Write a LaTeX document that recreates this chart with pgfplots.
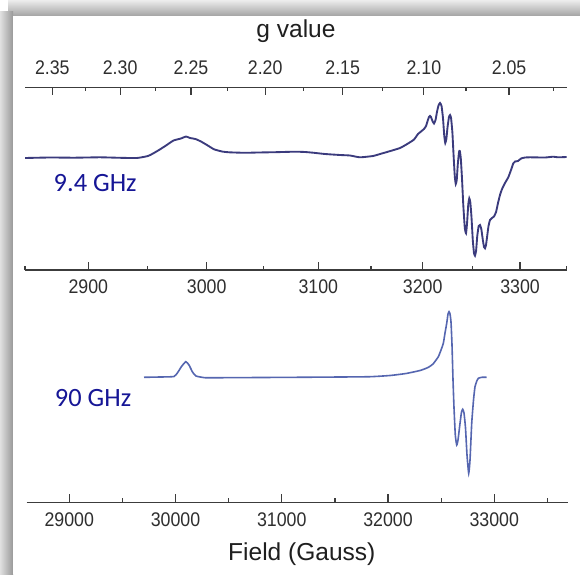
\documentclass[border=0pt]{standalone}
\usepackage{pgfplots}
\pgfplotsset{compat=1.18}
\usepackage{graphicx}
\usepackage{fontspec}
\setmainfont{Liberation Sans}
\newfontfamily\calib{Carlito}
\definecolor{axg}{HTML}{3C3C3C}
\definecolor{lbl}{HTML}{2E2E2E}
\definecolor{topc}{HTML}{3B3B7D}
\definecolor{botc}{HTML}{5566B0}
\definecolor{ghz}{HTML}{161696}
\newcommand\tl[1]{\scalebox{0.9}[1]{#1}}
\pgfplotsset{every axis/.append style={
  scale only axis,
  axis line style={draw=axg, line width=0.9pt, -},
  tick style={draw=axg, line width=0.9pt},
  major tick length=6pt, minor tick length=3pt,
  tick align=inside,
  scaled x ticks=false,
  ticklabel style={font=\fontsize{14.8}{15}\selectfont, text=lbl},
}}
\begin{document}
\begin{tikzpicture}
\useasboundingbox (0,0) rectangle (435pt,-430.5pt);
\fill[white] (0,0) rectangle (435pt,-430.5pt);
\shade[top color=black!7, bottom color=black!36] (6pt,0) rectangle (435pt,-12pt);
\shade[left color=black!12, right color=black!40] (0,-9pt) rectangle (9.75pt,-430.5pt);
\fill[white] (9.75pt,-12pt) rectangle (435pt,-430.5pt);

% top panel: field axis (bottom line)
\begin{axis}[at={(18.75pt,-202.5pt)}, anchor=south west,
  width=406.275pt, height=137.025pt,
  xmin=2832.9, xmax=3328.9, ymin=-112.5, ymax=70.2,
  axis x line*=bottom, axis y line=none,
  xtick={2890.85,2999.27,3101.46,3197.05,3286.15},
  xticklabels={\tl{2900},\tl{3000},\tl{3100},\tl{3200},\tl{3300}},
  minor xtick={2832.9,2945.25,3051.10,3149.71,3242.83,3328.9},
  xticklabel style={anchor=center, yshift=-12.5pt},
]
\addplot[topc, line width=1.4pt, smooth, tension=0.3] coordinates {
(2832.9,-0.5) (2855.8,0) (2877.8,-0.2) (2901.6,0.2) (2919.9,-0.3) (2935.4,-0.5)
(2945.5,1.5) (2950.1,4) (2955.6,7.5) (2962.0,12) (2968.9,17) (2975.7,19)
(2980.3,21) (2984.0,19.5) (2989.0,18.5) (2994.0,16) (2999.5,12.5) (3006.0,8.2)
(3013.3,6) (3019.7,5.2) (3034.3,4.7) (3046.2,5) (3061.8,5.3) (3080.1,5.8)
(3089.3,5.5) (3097.5,4.7) (3107.6,3.5) (3121.3,2.5) (3130.5,2) (3139.6,0.2)
(3151.5,1.5) (3158.0,3.5) (3165.3,5.8) (3176.3,9.5) (3183.6,14) (3189.1,18)
(3192.75,23.5) (3195.5,26) (3198.2,28.5) (3200.1,31.5) (3201.5,36.5) (3202.8,40.5)
(3203.7,41.5) (3204.6,40.5) (3206.0,36.5) (3207.4,34) (3208.8,37.5) (3210.1,45.5)
(3211.5,52) (3212.9,54.5) (3214.3,51.5) (3215.6,39.5) (3216.8,21.5) (3217.7,14.5)
(3218.7,18.5) (3219.8,30.5) (3221.1,40.5) (3222.1,42.5) (3223.0,39.5) (3224.2,25.5)
(3225.3,2.5) (3226.4,-18.5) (3227.3,-26.5) (3228.2,-22.5) (3229.2,-6.5) (3230.3,5.5)
(3231.0,6.5) (3231.9,-0.5) (3233.0,-20.5) (3234.2,-47.5) (3235.6,-70.5) (3236.7,-75.8)
(3237.6,-66.5) (3238.8,-46.5) (3239.7,-40.8) (3240.6,-44.5) (3241.7,-59.5) (3242.9,-82.5)
(3244.0,-95.5) (3244.9,-98.2) (3245.9,-93.5) (3247.0,-78.5) (3248.3,-68.5) (3249.5,-67.5)
(3250.7,-71.5) (3252.1,-82.5) (3253.2,-89.5) (3254.1,-90.8) (3255.0,-87.5) (3256.1,-78.5)
(3257.3,-68.5) (3258.7,-62.5) (3260.5,-60.5) (3262.3,-59) (3264.2,-54.5) (3266.0,-45.5)
(3267.8,-37.5) (3269.7,-31.5) (3272.4,-25.5) (3275.4,-19.8) (3277.9,-12.5) (3280.0,-5.8)
(3281.6,-4) (3284.3,-3.5) (3287.1,-1) (3290.7,0) (3295.3,0.2) (3309.0,0)
(3316.4,0.8) (3321.0,0.2) (3328.9,0.5)
};
\end{axis}

% top panel: g value axis (top line)
\begin{axis}[at={(18.75pt,-202.5pt)}, anchor=south west,
  width=406.275pt, height=137.025pt,
  xmin=2832.9, xmax=3328.9, ymin=-112.5, ymax=70.2,
  axis x line*=top, axis y line=none,
  xtick={2857.9,2920.0,2984.9,3052.8,3123.8,3198.1,3276.1},
  xticklabels={\tl{2.35},\tl{2.30},\tl{2.25},\tl{2.20},\tl{2.15},\tl{2.10},\tl{2.05}},
  minor xtick={2888.6,2952.1,3018.5,3087.9,3160.5,3236.7,3316.6},
  xticklabel style={anchor=center, yshift=14.5pt},
]
\end{axis}

% bottom panel: 90 GHz
\begin{axis}[at={(20.025pt,-376.725pt)}, anchor=south west,
  width=406.2pt, height=159.225pt,
  xmin=28599.1, xmax=33696.5, ymin=-125, ymax=87.3,
  axis x line*=bottom, axis y line=none,
  xtick={29000,30000,31000,32000,33000},
  xticklabels={\tl{29000},\tl{30000},\tl{31000},\tl{32000},\tl{33000}},
  minor xtick={29500,30500,31500,32500,33500},
  xticklabel style={anchor=center, yshift=-12.75pt},
]
\addplot[botc, line width=1.2pt, smooth, tension=0.3] coordinates {
(29703.1,0) (29853.7,0.3) (29985.4,0.8) (30023.1,5.3) (30056.0,10.8) (30096.5,15.6)
(30126.6,12.3) (30159.5,5.3) (30192.5,1.3) (30277.2,-0.4) (30437.2,-0.4) (30794.8,-0.2)
(31133.7,0) (31547.8,0.3) (31830.2,0.6) (32018.4,1.8) (32169.0,3.8) (32300.8,6.8)
(32376.1,9.8) (32423.2,13.3) (32473.1,20.6) (32498.5,27.3) (32520.1,34) (32536.1,44.3)
(32552.1,54) (32564.3,63.3) (32573.7,65.6) (32583.1,63.3) (32592.5,55.3) (32601.9,32.3)
(32611.4,-2.7) (32620.8,-30.7) (32633.0,-57.7) (32646.2,-67.7) (32658.4,-62.7) (32677.3,-46)
(32691.4,-34.7) (32702.7,-32) (32714.9,-35.7) (32729.0,-50.7) (32743.1,-77.7) (32759.1,-96)
(32771.4,-82.7) (32787.4,-46) (32804.3,-22.7) (32818.4,-9.4) (32837.2,-3.2) (32849.5,-1)
(32881.5,0) (32928.5,0)
};
\end{axis}

\node[anchor=base, inner sep=0pt, font=\fontsize{18.4}{19}\selectfont, text=black!88] at (222pt,-27.98pt) {g value};
\node[anchor=base, inner sep=0pt, font=\fontsize{18.4}{19}\selectfont, text=black!88] at (226.35pt,-420pt) {Field (Gauss)};
\node[anchor=base west, inner sep=0pt, font=\calib\fontsize{19.8}{20}\selectfont, text=ghz] at (40.1pt,-143.8pt) {9.4 GHz};
\node[anchor=base west, inner sep=0pt, font=\calib\fontsize{19.8}{20}\selectfont, text=ghz] at (41pt,-305pt) {90 GHz};
\end{tikzpicture}
\end{document}
